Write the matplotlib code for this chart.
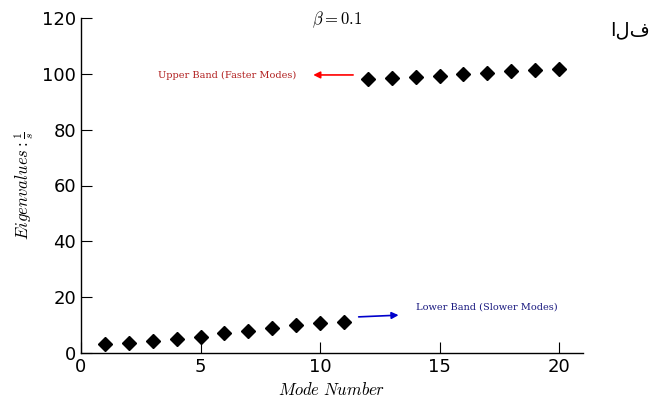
import matplotlib
matplotlib.use("Agg")
import matplotlib.pyplot as plt

modes_lower = [1, 2, 3, 4, 5, 6, 7, 8, 9, 10, 11]
eig_lower = [3.3, 3.7, 4.2, 4.9, 5.8, 7.0, 7.9, 9.0, 10.0, 10.8, 11.2]
modes_upper = [12, 13, 14, 15, 16, 17, 18, 19, 20]
eig_upper = [98.2, 98.6, 99.0, 99.4, 99.8, 100.4, 100.9, 101.4, 101.9]
x_ticks = [0, 5, 10, 15, 20]
y_ticks = [0, 20, 40, 60, 80, 100, 120]

plt.rcParams['mathtext.fontset'] = 'cm'
fig = plt.figure(figsize=(6.63, 4.07), dpi=100)
ax = fig.add_axes([81/663, 1-353/407, (583-81)/663, (353-18)/407])

ax.plot(modes_lower, eig_lower, 'kD', markersize=7)
ax.plot(modes_upper, eig_upper, 'kD', markersize=7)

ax.set_xlim(0, 21)
ax.set_ylim(0, 120)
ax.set_xticks(x_ticks)
ax.set_yticks(y_ticks)
ax.spines['top'].set_visible(False)
ax.spines['right'].set_visible(False)
ax.tick_params(direction='in', length=8, labelsize=13, top=False, right=False)
for s in ['left', 'bottom']:
    ax.spines[s].set_linewidth(1.0)

ax.set_xlabel(r'$Mode\ Number$', fontsize=12)
ax.set_ylabel(r'$Eigenvalues:\frac{1}{s}$', fontsize=12)
ax.text(0.51, 0.995, r'$\beta=0.1$', fontsize=12, ha='center', va='center',
        transform=ax.transAxes)

ax.annotate('', xy=(9.6, 99.6), xytext=(11.5, 99.6),
            arrowprops=dict(arrowstyle='-|>', color='red', lw=1.2, mutation_scale=10))
ax.text(9.0, 99.6, 'Upper Band (Faster Modes)', color='#b22222', fontsize=7,
        family='serif', ha='right', va='center')

ax.annotate('', xy=(13.4, 13.6), xytext=(11.5, 12.9),
            arrowprops=dict(arrowstyle='-|>', color='#0000cc', lw=1.2, mutation_scale=10))
ax.text(14.0, 16.3, 'Lower Band (Slower Modes)', color='#1a1a80', fontsize=7,
        family='serif', ha='left', va='center')

fig.text(630/663, 1-30/407, 'الف', fontsize=14, ha='center', va='center',
         family=['DejaVu Sans'])

fig.savefig('out.png', dpi=100)
